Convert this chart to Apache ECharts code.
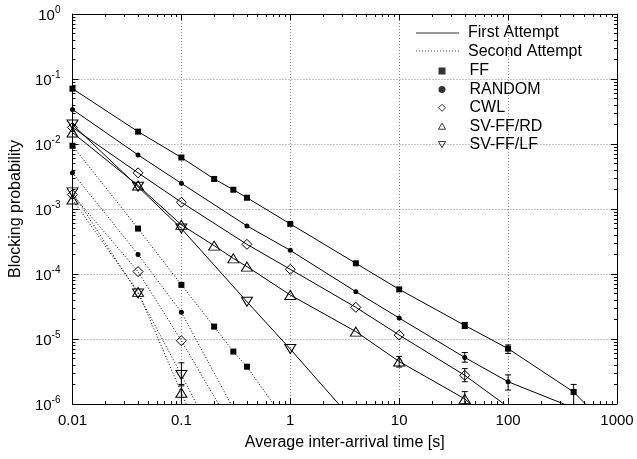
<!DOCTYPE html>
<html><head><meta charset="utf-8">
<script src="https://cdn.jsdelivr.net/npm/echarts@6/dist/echarts.min.js"></script>
<style>html,body{margin:0;padding:0;background:#fff}#c{width:637px;height:459px}</style>
</head><body><div id="c"></div>
<script>
// ---- data ----
const xTickLabels = ['0.01','0.1','1','10','100','1000'];
const yTickExps = [-6,-5,-4,-3,-2,-1,0];

const ffX1  = [0.01,0.04,0.1,0.2,0.3,0.4,1,4,10,40,100,400,1000];
const ffY1  = [0.071,0.0155,0.0062,0.0029,0.00198,0.00149,5.9e-4,1.46e-4,5.8e-5,1.62e-5,7.1e-6,1.53e-6,3.2e-7];
const ffX2  = [0.01,0.04,0.1,0.2,0.3,0.4,1];
const ffY2  = [0.0094,5.0e-4,6.8e-5,1.55e-5,6.4e-6,3.75e-6,4.3e-7];
const rndX1 = [0.01,0.04,0.1,0.4,1,4,10,40,100,400];
const rndY1 = [0.034,0.0068,0.00248,5.5e-4,2.31e-4,5.35e-5,2.1e-5,5.2e-6,2.2e-6,8.7e-7];
const rndX2 = [0.01,0.04,0.1,0.4];
const rndY2 = [0.00362,2.0e-4,2.57e-5,3.5e-7];
const cwlX1 = [0.01,0.04,0.1,0.4,1,4,10,40,100];
const cwlY1 = [0.018,0.0036,0.00127,2.86e-4,1.18e-4,3.07e-5,1.15e-5,2.76e-6,9.0e-7];
const cwlX2 = [0.01,0.04,0.1,0.4];
const cwlY2 = [0.00166,1.09e-4,9.4e-6,1.8e-7];
const rdX1  = [0.01,0.04,0.1,0.2,0.3,0.4,1,4,10,40,100];
const rdY1  = [0.015,0.0023,5.7e-4,2.73e-4,1.74e-4,1.3e-4,4.75e-5,1.3e-5,4.5e-6,1.2e-6,3e-7];
const rdX2  = [0.01,0.04,0.1,0.2];
const rdY2  = [0.0014,5.3e-5,1.49e-6,1e-7];
const lfX1  = [0.01,0.04,0.1,0.4,1,4];
const lfY1  = [0.02,0.0022,5.0e-4,3.75e-5,7.0e-6,5e-7];
const lfX2  = [0.01,0.04,0.1,0.2];
const lfY2  = [0.0018,5.0e-5,2.8e-6,3e-7];

// error bars: [x, low, high]
const errBars = [
  [40,1.45e-5,1.8e-5],[100,6.0e-6,8.1e-6],[400,9e-7,2.0e-6],
  [40,4.4e-6,6.2e-6],[100,1.64e-6,2.8e-6],
  [40,2.2e-6,3.5e-6],
  [40,9e-7,1.55e-6],[10,3.7e-6,5.4e-6],
  [0.1,9e-7,2.0e-6],[0.1,1.9e-6,4.3e-6]
];

// ---- chart ----
const FONT = "'Liberation Sans', Arial, sans-serif";
const FS = 16, TFS = 15;
const pairs = (xs, ys) => xs.map((x, i) => [x, ys[i]]);
const HOLLOW = {color: 'rgba(0,0,0,0)', borderColor: '#000', borderWidth: 1};
const FILLED = {color: '#000', borderWidth: 0};

function mk(name, xs, ys, symbol, size, filled, dotted, rotate) {
  return {
    name: name, type: 'line', data: pairs(xs, ys),
    symbol: symbol, symbolSize: size, symbolRotate: rotate || 0,
    showSymbol: true, clip: true, silent: true, animation: false, z: 3,
    itemStyle: filled ? FILLED : HOLLOW,
    lineStyle: {color: '#000', width: 1, type: dotted ? [1, 2] : 'solid'}
  };
}

// legend line-sample icons
let dotPath = '';
for (let i = 0; i < 43; i += 3) dotPath += 'M' + i + ',0h1v1h-1z';
const solidIcon = 'path://M0,0L43,0L43,1L0,1Z';
const dottedIcon = 'path://' + dotPath;

const axisCommonX = {
  type: 'log', logBase: 10, min: 0.01, max: 1000, interval: 1,
  axisLine: {show: true, onZero: false, lineStyle: {color: '#000', width: 1}},
  axisTick: {show: true, inside: true, length: 6, lineStyle: {color: '#000'}},
  minorTick: {show: true, splitNumber: 9, length: 3, lineStyle: {color: '#000'}}
};
const axisCommonY = {
  type: 'log', logBase: 10, min: 1e-6, max: 1, interval: 1,
  axisLine: {show: true, onZero: false, lineStyle: {color: '#000', width: 1}},
  axisTick: {show: true, inside: true, length: 6, lineStyle: {color: '#000'}},
  minorTick: {show: true, splitNumber: 9, length: 3, lineStyle: {color: '#000'}}
};
const gridLine = {show: true, lineStyle: {color: '#888', width: 1, type: [1, 2]}};

const series = [
  mk('FF-1', ffX1, ffY1, 'rect', 6, true, false),
  mk('FF-2', ffX2, ffY2, 'rect', 6, true, true),
  mk('RANDOM-1', rndX1, rndY1, 'circle', 5, true, false),
  mk('RANDOM-2', rndX2, rndY2, 'circle', 5, true, true),
  mk('CWL-1', cwlX1, cwlY1, 'diamond', 10, false, false),
  mk('CWL-2', cwlX2, cwlY2, 'diamond', 10, false, true),
  mk('RD-1', rdX1, rdY1, 'triangle', [11, 9], false, false),
  mk('RD-2', rdX2, rdY2, 'triangle', [11, 9], false, true),
  mk('LF-1', lfX1, lfY1, 'triangle', [11, 9], false, false, 180),
  mk('LF-2', lfX2, lfY2, 'triangle', [11, 9], false, true, 180),
  {
    type: 'custom', name: 'err', data: errBars, clip: true, silent: true, z: 4,
    encode: {x: 0, y: [1, 2]},
    renderItem: function (params, api) {
      const x = api.value(0);
      const p1 = api.coord([x, api.value(1)]);
      const p2 = api.coord([x, api.value(2)]);
      const c = 3, st = {stroke: '#000', lineWidth: 1};
      return {type: 'group', children: [
        {type: 'line', shape: {x1: p1[0], y1: p1[1], x2: p2[0], y2: p2[1]}, style: st},
        {type: 'line', shape: {x1: p1[0]-c, y1: p1[1], x2: p1[0]+c, y2: p1[1]}, style: st},
        {type: 'line', shape: {x1: p2[0]-c, y1: p2[1], x2: p2[0]+c, y2: p2[1]}, style: st}
      ]};
    }
  },
  // legend-only series
  {name: 'First Attempt', type: 'scatter', data: []},
  {name: 'Second Attempt', type: 'scatter', data: []},
  {name: 'FF', type: 'scatter', data: []},
  {name: 'RANDOM', type: 'scatter', data: []},
  {name: 'CWL', type: 'scatter', data: []},
  {name: 'SV-FF/RD', type: 'scatter', data: []},
  {name: 'SV-FF/LF', type: 'scatter', data: []}
];

const legendText = {fontFamily: FONT, fontSize: FS, color: '#000', lineHeight: 14};

const chart = echarts.init(document.getElementById('c'), null, {renderer: 'canvas'});
chart.setOption({
  animation: false,
  backgroundColor: '#fff',
  textStyle: {fontFamily: FONT, color: '#000'},
  grid: {left: 68, right: 20, top: 14, bottom: 55, containLabel: false},
  legend: [
    {
      orient: 'vertical', left: 411, top: 20, itemWidth: 43, itemHeight: 1, itemGap: 2.1,
      selectedMode: false,
      textStyle: Object.assign({}, legendText, {padding: [0, 0, 0, 4]}),
      data: [
        {name: 'First Attempt', icon: solidIcon, itemStyle: {color: '#000', borderWidth: 0}},
        {name: 'Second Attempt', icon: dottedIcon, itemStyle: {color: '#000', borderWidth: 0}}
      ]
    },
    {
      orient: 'vertical', left: 433, top: 58, itemWidth: 7, itemHeight: 14, itemGap: 2.4,
      selectedMode: false,
      textStyle: Object.assign({}, legendText, {padding: [0, 0, 0, 19]}),
      data: [
        {name: 'FF', icon: 'path://M0,0L6,0L6,6L0,6Z', itemStyle: {color: '#000', borderWidth: 0}},
        {name: 'RANDOM', icon: 'path://M2.5,0A2.5,2.5,0,1,1,2.49,0Z', itemStyle: {color: '#000', borderWidth: 0}},
        {name: 'CWL', icon: 'path://M4,0L8,4L4,8L0,4Z', itemStyle: HOLLOW},
        {name: 'SV-FF/RD', icon: 'path://M4,0L8,7L0,7Z', itemStyle: HOLLOW},
        {name: 'SV-FF/LF', icon: 'path://M0,0L8,0L4,7Z', itemStyle: HOLLOW}
      ]
    }
  ],
  xAxis: [
    Object.assign({}, axisCommonX, {
      position: 'bottom',
      name: 'Average inter-arrival time [s]', nameLocation: 'middle', nameGap: 31,
      nameTextStyle: {fontFamily: FONT, fontSize: FS, color: '#000'},
      axisLabel: {fontFamily: FONT, fontSize: TFS, color: '#000', margin: 9,
        formatter: v => xTickLabels[Math.round(Math.log10(v)) + 2]},
      splitLine: gridLine
    }),
    Object.assign({}, axisCommonX, {position: 'top', axisLabel: {show: false}, splitLine: {show: false}})
  ],
  yAxis: [
    Object.assign({}, axisCommonY, {
      position: 'left',
      name: 'Blocking probability', nameLocation: 'middle', nameGap: 48,
      nameTextStyle: {fontFamily: FONT, fontSize: FS, color: '#000'},
      axisLabel: {fontFamily: FONT, fontSize: TFS, color: '#000', margin: 12,
        formatter: v => '{b|10}{e|' + Math.round(Math.log10(v)) + '}',
        rich: {b: {fontFamily: FONT, fontSize: TFS, color: '#000', verticalAlign: 'bottom'},
               e: {fontFamily: FONT, fontSize: 10, color: '#000', verticalAlign: 'bottom', padding: [0, 0, 8, 0]}}},
      splitLine: gridLine
    }),
    Object.assign({}, axisCommonY, {position: 'right', axisLabel: {show: false}, splitLine: {show: false}})
  ],
  series: series
});
</script></body></html>
